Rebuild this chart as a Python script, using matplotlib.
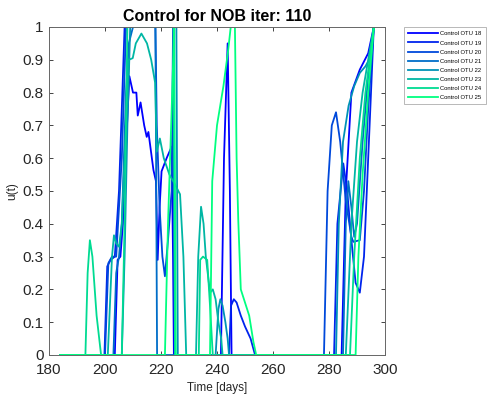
import matplotlib
matplotlib.use("Agg")
import matplotlib.pyplot as plt

plt.rcParams["font.family"] = ["Liberation Sans", "DejaVu Sans"]

labels = ["Control OTU 18", "Control OTU 19", "Control OTU 20", "Control OTU 21",
          "Control OTU 22", "Control OTU 23", "Control OTU 24", "Control OTU 25"]

t18 = [184, 203.5, 204.5, 205.5, 206.4, 207, 208.7, 210, 211.2, 211.7, 212.7, 214, 214.9, 215.5,
       217.3, 218.2, 218.8, 219.5, 220.2, 222, 223.8, 224.3, 224.6, 241.4, 242.5, 243.8, 244.6,
       245.2, 284.5, 286, 288, 291, 294, 296]
u18 = [0, 0, 0.29, 0.3, 0.4, 0.55, 0.85, 0.8, 0.8, 0.73, 0.77, 0.7, 0.665, 0.68,
       0.564, 0.53, 0.29, 0.45, 0.56, 0.6, 0.635, 0.3, 0, 0, 0.6, 0.95, 0.5,
       0, 0, 0.5, 0.8, 0.87, 0.92, 1]

t19 = [184, 199.8, 200.8, 202, 203.5, 205, 207, 224.5, 225, 244.3, 245, 246, 247, 248.5, 250,
       252, 253.6, 281.8, 283, 285.1, 286.5, 288, 289.5, 291, 292.5, 294, 296]
u19 = [0, 0, 0.27, 0.29, 0.3, 0.5, 1, 1, 0, 0, 0.15, 0.17, 0.16, 0.12, 0.087,
       0.05, 0, 0, 0.4, 0.584, 0.5, 0.35, 0.22, 0.19, 0.3, 0.6, 1]

t20 = [184, 200, 201.2, 202.5, 204, 206, 207.5, 218, 218.5, 219.5, 220.5, 221.4, 222.5, 223.8,
       224.3, 225, 278.2, 279.5, 281, 282.5, 284, 286, 288, 288.7, 291, 292.5, 294, 296]
u20 = [0, 0, 0.28, 0.3, 0.3, 0.6, 1, 1, 0.7, 0.45, 0.3, 0.24, 0.35, 0.5,
       1, 0, 0, 0.5, 0.7, 0.74, 0.65, 0.47, 0.36, 0.345, 0.35, 0.5, 0.75, 1]

t21 = [184, 203, 204, 205, 206, 207.5, 208.5, 210, 218, 218.3, 218.6, 285, 286, 286.9, 288,
       289, 290, 292, 294, 296]
u21 = [0, 0, 0.25, 0.3, 0.4, 0.8, 0.95, 1, 1, 0.5, 0, 0, 0.4, 0.53, 0.45,
       0.36, 0.4, 0.65, 0.85, 1]

t22 = [184, 206, 207, 208, 209, 225.5, 226, 239.5, 240.5, 241.2, 242, 243, 243.8, 244.3,
       282.5, 283.5, 285, 287, 289, 291, 293, 295, 296]
u22 = [0, 0, 0.3, 0.7, 1, 1, 0, 0, 0.14, 0.17, 0.15, 0.1, 0.05, 0,
       0, 0.4, 0.65, 0.76, 0.82, 0.86, 0.88, 0.91, 1]

t23 = [184, 201, 202.5, 203.2, 204, 205, 206, 207.5, 208.5, 209.9, 211, 213, 215, 216.5, 217.9,
       218.5, 219.6, 221, 223, 225, 226.8, 228, 229, 232.5, 233.3, 234.3, 235.2, 236, 237.5,
       238.5, 239.5, 240.5, 241.5, 242, 286, 288, 290, 292, 294, 296]
u23 = [0, 0, 0.3, 0.365, 0.34, 0.33, 0.4, 0.7, 0.9, 0.905, 0.95, 0.98, 0.95, 0.9, 0.83,
       0.62, 0.66, 0.6, 0.55, 0.52, 0.49, 0.3, 0, 0, 0.3, 0.452, 0.4, 0.3, 0.19,
       0.2, 0.17, 0.1, 0.05, 0, 0, 0.4, 0.65, 0.8, 0.9, 1]

t24 = [184, 193, 193.8, 194.6, 195.5, 197, 198.6, 206, 207, 208, 224.5, 225, 233.5, 234, 235,
       236.5, 237.5, 238.5, 287.5, 289, 291, 293, 296]
u24 = [0, 0, 0.25, 0.35, 0.3, 0.12, 0, 0, 0.4, 1, 1, 0, 0, 0.29, 0.3,
       0.29, 0.15, 0, 0, 0.3, 0.6, 0.8, 1]

t25 = [184, 221.4, 222.5, 224, 224.7, 225.3, 237.5, 238.3, 240, 242.3, 244, 244.9, 246.4, 247,
       247.6, 248.5, 250, 251.5, 253, 254, 289.5, 290.5, 292, 294, 296]
u25 = [0, 0, 0.4, 0.8, 1, 0, 0, 0.53, 0.7, 0.82, 0.93, 1, 1, 0.6,
       0.41, 0.2, 0.16, 0.12, 0.04, 0, 0, 0.3, 0.55, 0.8, 1]

times = [t18, t19, t20, t21, t22, t23, t24, t25]
values = [u18, u19, u20, u21, u22, u23, u24, u25]

# winter colormap, 8 samples
colors = [(0.0, i / 7.0, 1.0 - 0.5 * i / 7.0) for i in range(8)]

fig = plt.figure(figsize=(4.89, 4.0), dpi=100)
ax = fig.add_axes([49 / 489, 45 / 400, 336 / 489, 328 / 400])

for t, u, c, lab in zip(times, values, colors, labels):
    ax.plot(t, u, color=c, lw=1.3, label=lab, clip_on=True)

ax.set_xlim(180, 300)
ax.set_ylim(0, 1)
ax.set_xticks(range(180, 301, 20))
ax.set_yticks([i / 10 for i in range(11)])
ax.set_yticklabels(["0", "0.1", "0.2", "0.3", "0.4", "0.5", "0.6", "0.7", "0.8", "0.9", "1"])
ax.tick_params(direction="in", top=True, right=True, labelsize=11, colors="#262626",
               length=3, width=0.6)
ax.tick_params(axis="x", pad=6)
ax.tick_params(axis="y", pad=4)
for s in ax.spines.values():
    s.set_color("#666666")
    s.set_linewidth(0.7)

ax.set_title("Control for NOB iter: 110", fontsize=11.5, fontweight="bold", color="black", pad=4)
ax.set_xlabel("Time [days]", fontsize=8.5, color="#262626", labelpad=3)
ax.set_ylabel("u(t)", fontsize=8.5, color="#262626", labelpad=3)

leg = ax.legend(loc="upper left", bbox_to_anchor=(404 / 489, 1 - 27 / 400),
                bbox_transform=fig.transFigure, borderaxespad=0, fontsize=4.2,
                frameon=True, fancybox=False, edgecolor="#999999", handlelength=5.0,
                handletextpad=0.5, labelspacing=0.68, borderpad=0.75)
leg.get_frame().set_linewidth(0.6)

fig.savefig("out.png", dpi=100)
